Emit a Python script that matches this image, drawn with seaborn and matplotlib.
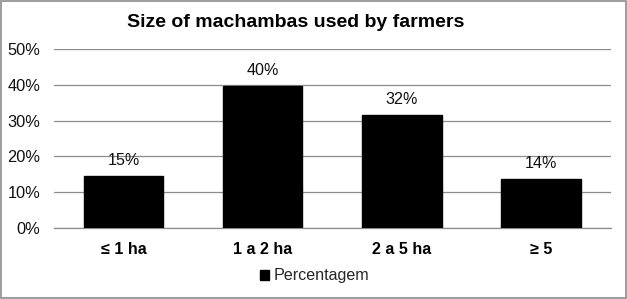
import matplotlib
matplotlib.use("Agg")
import matplotlib.pyplot as plt
import seaborn as sns
import pandas as pd
from matplotlib.patches import Rectangle

categories = ["≤ 1 ha", "1 a 2 ha", "2 a 5 ha", "≥ 5"]
values = [0.146, 0.397, 0.316, 0.137]
labels = ["15%", "40%", "32%", "14%"]
yticks = [0, 0.1, 0.2, 0.3, 0.4, 0.5]
ytick_labels = ["0%", "10%", "20%", "30%", "40%", "50%"]

sns.set_theme(style="white")
plt.rcParams['font.family'] = ['Liberation Sans', 'DejaVu Sans']

df = pd.DataFrame({"cat": categories, "val": values})

fig = plt.figure(figsize=(6.27, 2.99), dpi=100)
ax = fig.add_axes([0.086, 0.2375, 0.888, 0.5985])

sns.barplot(data=df, x="cat", y="val", color="black", width=0.57, ax=ax, zorder=3,
            saturation=1)
for p in ax.patches:
    p.set_facecolor("black")
    p.set_edgecolor("black")

ax.set_ylim(0, 0.5)
ax.set_yticks(yticks)
ax.set_yticklabels(ytick_labels, fontsize=11.8, color="#111111")
ax.yaxis.grid(True, color="#8c8c8c", linewidth=0.9, zorder=0)
ax.set_axisbelow(True)
ax.set_xlabel("")
ax.set_ylabel("")
ax.set_xticks(range(len(categories)))
ax.set_xticklabels(categories, fontsize=11.6, fontweight="bold", color="black")
ax.tick_params(axis="y", length=0, pad=10)
ax.tick_params(axis="x", length=0, pad=10)
for s in ["top", "right", "left"]:
    ax.spines[s].set_visible(False)
ax.spines["bottom"].set_color("#8c8c8c")
ax.spines["bottom"].set_linewidth(0.9)

for i, (v, lab) in enumerate(zip(values, labels)):
    ax.text(i, v + 0.022, lab, ha="center", va="bottom", fontsize=11.6, color="#111111")

fig.text(0.472, 0.926, "Size of machambas used by farmers", ha="center", va="center",
         fontsize=14, fontweight="bold", color="black")

handle = Rectangle((0, 0), 1, 1, facecolor="black", edgecolor="black")
fig.legend([handle], ["Percentagem"], loc="center", bbox_to_anchor=(0.502, 0.077),
           frameon=False, fontsize=11.6, handlelength=0.55, handleheight=0.55,
           handletextpad=0.25)

fig.patches.append(Rectangle((0.0015, 0.003), 0.997, 0.994, transform=fig.transFigure,
                             fill=False, edgecolor="#8c8c8c", linewidth=1.2))

fig.savefig("out.png", dpi=100)
